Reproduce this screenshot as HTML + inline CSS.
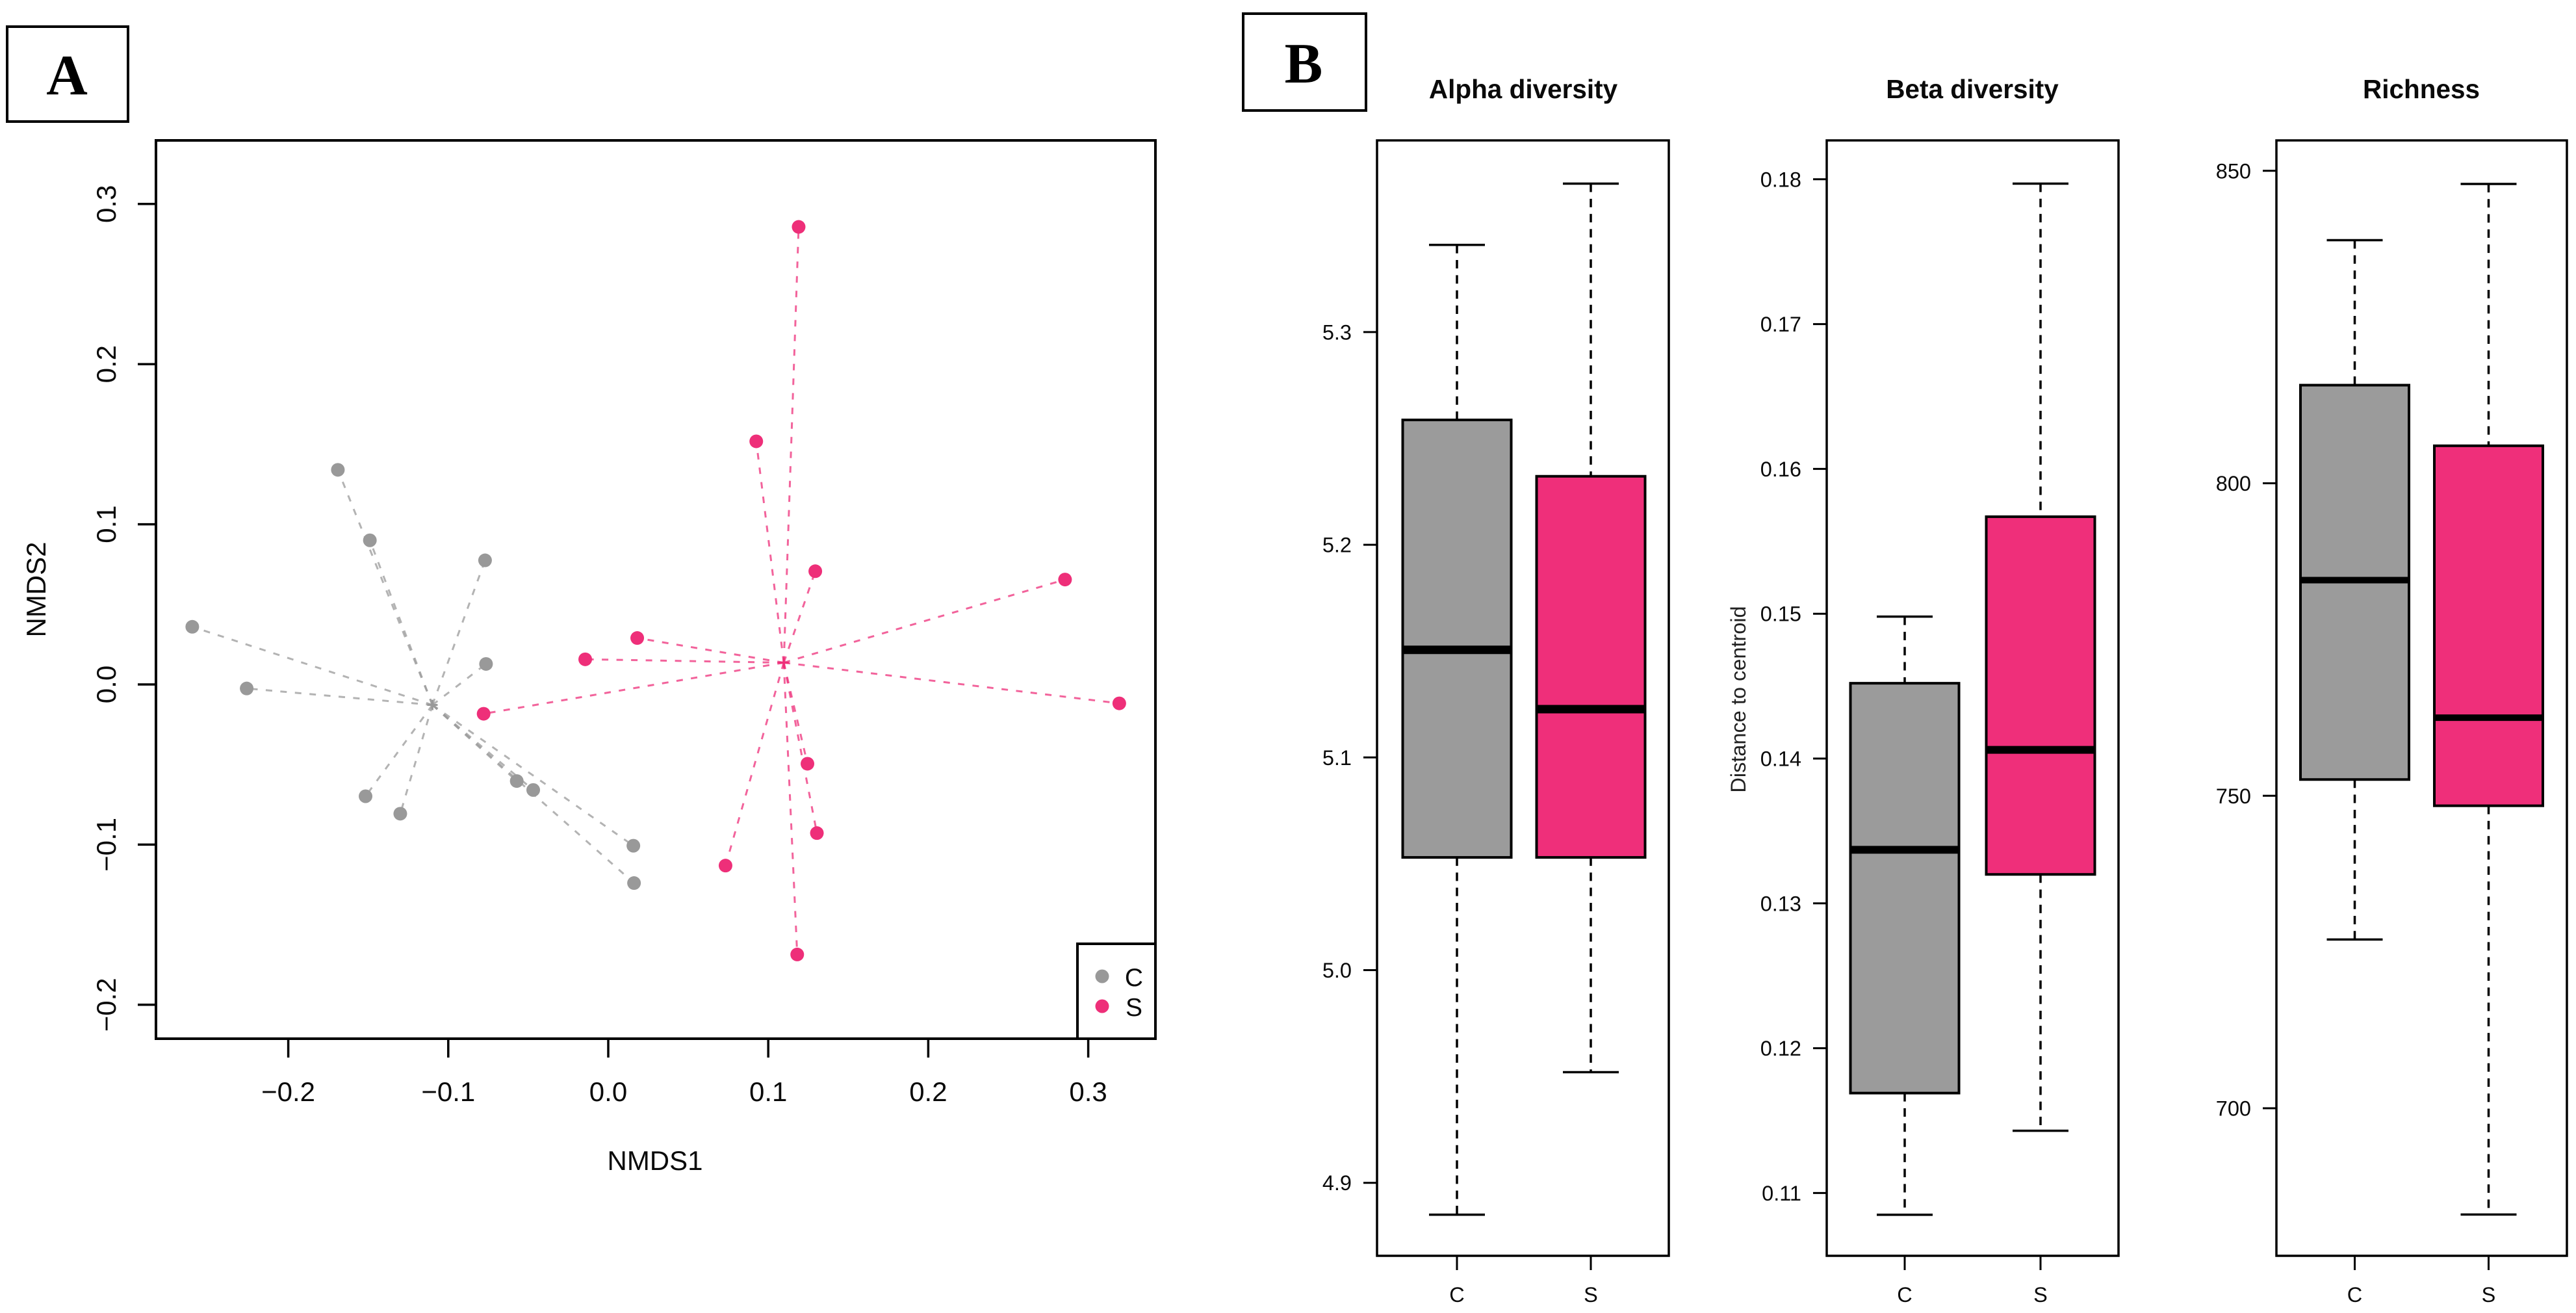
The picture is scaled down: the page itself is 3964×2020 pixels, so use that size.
<!DOCTYPE html>
<html lang="en">
<head>
<meta charset="utf-8">
<title>NMDS ordination and diversity boxplots</title>
<style>
html,body{margin:0;padding:0;background:#fff;}
svg{display:block;font-family:"Liberation Sans",Arial,sans-serif;}
text{fill:#0a0a0a;}
</style>
</head>
<body>
<svg id="chart" xmlns="http://www.w3.org/2000/svg" width="3964" height="2020" viewBox="0 0 3964 2020">
  <rect x="0" y="0" width="3964" height="2020" fill="#fff"/>

  <g>
    <rect x="11" y="41" width="186" height="146" fill="#fff" stroke="#000" stroke-width="4"/>
    <text x="103" y="145" text-anchor="middle" font-family="'Liberation Serif',serif" font-weight="700" font-size="88" style="fill:#000">A</text>
  </g>
  <g>
    <rect x="1913" y="21" width="189" height="149" fill="#fff" stroke="#000" stroke-width="4"/>
    <text x="2006" y="127" text-anchor="middle" font-family="'Liberation Serif',serif" font-weight="700" font-size="88" style="fill:#000">B</text>
  </g>

  <g id="panelA"></g>
  <rect x="240" y="216" width="1538" height="1382" fill="none" stroke="#000" stroke-width="4"/>
  <text x="1008" y="1800" text-anchor="middle" font-size="42">NMDS1</text>
  <text transform="translate(70,907) rotate(-90)" text-anchor="middle" font-size="42">NMDS2</text>

  <g>
    <rect x="1658" y="1452" width="120" height="146" fill="#fff" stroke="#000" stroke-width="4"/>
    <circle cx="1696" cy="1502" r="10.5" fill="#999999"/>
    <text x="1745" y="1517" text-anchor="middle" font-size="39">C</text>
    <circle cx="1696" cy="1548" r="10.5" fill="#EE2F79"/>
    <text x="1745" y="1563" text-anchor="middle" font-size="39">S</text>
  </g>

  <text x="2344" y="151" text-anchor="middle" font-size="40.5" font-weight="700">Alpha diversity</text>
  <text x="3035" y="151" text-anchor="middle" font-size="40.5" font-weight="700">Beta diversity</text>
  <text x="3726" y="151" text-anchor="middle" font-size="40.5" font-weight="700">Richness</text>
  <text transform="translate(2686,1076) rotate(-90)" text-anchor="middle" font-size="32.5" style="fill:#222">Distance to centroid</text>

  <g id="panelAlpha"></g>
  <g id="panelBeta"></g>
  <g id="panelRich"></g>
</svg>

<script>
// ---------- NMDS data ----------
const xTicksA = [-0.2, -0.1, 0.0, 0.1, 0.2, 0.3];
const yTicksA = [-0.2, -0.1, 0.0, 0.1, 0.2, 0.3];
const controlX = [-0.169, -0.149, -0.077, -0.260, -0.0764, -0.226, -0.1517, -0.130, -0.0572, -0.0469, 0.0157, 0.0161];
const controlY = [0.134, 0.090, 0.0775, 0.036, 0.0128, -0.0025, -0.0698, -0.0807, -0.0603, -0.0659, -0.1007, -0.124];
const controlCentroid = [-0.1099, -0.0128];
const treatedX = [0.119, 0.0925, 0.1294, 0.2855, 0.0181, -0.0144, -0.0779, 0.3194, 0.1245, 0.1304, 0.0733, 0.1181];
const treatedY = [0.2857, 0.1518, 0.0707, 0.0655, 0.029, 0.0157, -0.0183, -0.0118, -0.0495, -0.0928, -0.1131, -0.1686];
const treatedCentroid = [0.1097, 0.0136];

// ---------- Boxplot data: [lower whisker, Q1, median, Q3, upper whisker] ----------
const categories = ["C", "S"];
const alphaC = [4.885, 5.053, 5.1506, 5.2587, 5.341];
const alphaS = [4.952, 5.053, 5.1227, 5.2322, 5.3698];
const alphaTicks = ["4.9", "5.0", "5.1", "5.2", "5.3"];
const betaC = [0.1085, 0.1169, 0.1337, 0.1452, 0.1498];
const betaS = [0.1143, 0.1320, 0.1406, 0.1567, 0.1797];
const betaTicks = ["0.11", "0.12", "0.13", "0.14", "0.15", "0.16", "0.17", "0.18"];
const richC = [727, 752.6, 784.5, 815.7, 838.9];
const richS = [683, 748.4, 762.5, 806, 847.9];
const richTicks = ["700", "750", "800", "850"];

const GRAY = "#9B9B9B";
const PINK = "#EF2F7A";
const NS = "http://www.w3.org/2000/svg";

function mk(tag, parent, attrs) {
  const e = document.createElementNS(NS, tag);
  for (const k in attrs) e.setAttribute(k, attrs[k]);
  parent.appendChild(e);
  return e;
}

// ---------- NMDS axes ----------
const xA = v => 936 + 2462 * v;
const yA = v => 1053 - 2464 * v;
const fmtA = v => (v < 0 ? "\u2212" : "") + Math.abs(v).toFixed(1);
const gA = document.getElementById("panelA");

xTicksA.forEach(t => {
  const tick = mk("line", gA, {x1: xA(t), x2: xA(t), y1: 1598, y2: 1627, stroke: "#000", "stroke-width": 3.5});
  
  
  const lab = mk("text", gA, {x: xA(t), y: 1694, "text-anchor": "middle", "font-size": 42});
  
  
  lab.textContent = fmtA(t);
});
yTicksA.forEach(t => {
  const tick = mk("line", gA, {x1: 212, x2: 240, y1: yA(t), y2: yA(t), stroke: "#000", "stroke-width": 3.5});
  
  
  const lab = mk("text", gA, {transform: "translate(178," + yA(t) + ") rotate(-90)", "text-anchor": "middle", "font-size": 42});
  
  
  lab.textContent = fmtA(t);
});

function drawGroup(xs, ys, centroid, color, key) {
  const cx = xA(centroid[0]), cy = yA(centroid[1]);
  xs.forEach((x, i) => {
    const seg = mk("line", gA, {x1: cx, y1: cy, x2: xA(x), y2: yA(ys[i]), stroke: color, "stroke-width": 3, "stroke-opacity": 0.75, "stroke-dasharray": "10 12.5"});
    
    
  });
  const plus = mk("path", gA, {d: "M" + (cx - 8) + " " + cy + "H" + (cx + 8) + "M" + cx + " " + (cy - 8) + "V" + (cy + 8), stroke: color, "stroke-width": 3, fill: "none"});
  
  
  xs.forEach((x, i) => {
    const pt = mk("circle", gA, {cx: xA(x), cy: yA(ys[i]), r: 10.5, fill: color});
    
    
  });
}
drawGroup(controlX, controlY, controlCentroid, "#999999", "control");
drawGroup(treatedX, treatedY, treatedCentroid, "#EE2F79", "treated");

// ---------- Boxplots ----------
function drawBox(g, stats, cx, fill, y, medianWidth, key) {
  const halfBox = 83.5, halfCap = 43;
  const low = y(stats[0]), q1 = y(stats[1]), med = y(stats[2]), q3 = y(stats[3]), high = y(stats[4]);
  const upper = mk("line", g, {x1: cx, x2: cx, y1: high, y2: q3, stroke: "#000", "stroke-width": 3.5, "stroke-dasharray": "13 10.3"});
  
  
  const lower = mk("line", g, {x1: cx, x2: cx, y1: q1, y2: low, stroke: "#000", "stroke-width": 3.5, "stroke-dasharray": "13 10.3"});
  
  
  const capHigh = mk("line", g, {x1: cx - halfCap, x2: cx + halfCap, y1: high, y2: high, stroke: "#000", "stroke-width": 3.5});
  
  
  const capLow = mk("line", g, {x1: cx - halfCap, x2: cx + halfCap, y1: low, y2: low, stroke: "#000", "stroke-width": 3.5});
  
  
  const box = mk("rect", g, {x: cx - halfBox, y: q3, width: 2 * halfBox, height: q1 - q3, fill: fill, stroke: "#000", "stroke-width": 4});
  
  
  const m = mk("line", g, {x1: cx - halfBox, x2: cx + halfBox, y1: med, y2: med, stroke: "#000", "stroke-width": medianWidth});
  
  
}

function drawPanel(id, key, left, right, y, ticks, c0, step, seriesC, seriesS, medianWidth) {
  const g = document.getElementById(id);
  const band = i => c0 + i * step;
  ticks.forEach(t => {
    const py = y(parseFloat(t));
    const tick = mk("line", g, {x1: left - 21, x2: left, y1: py, y2: py, stroke: "#000", "stroke-width": 3});
    
    
    const lab = mk("text", g, {x: left - 39, y: py + 11.5, "text-anchor": "end", "font-size": 32.5});
    
    
    lab.textContent = t;
  });
  drawBox(g, seriesC, band(0), GRAY, y, medianWidth, key + '-c');
  drawBox(g, seriesS, band(1), PINK, y, medianWidth, key + '-s');
  const frame = mk("rect", g, {x: left, y: 216, width: right - left, height: 1716, fill: "none", stroke: "#000", "stroke-width": 3.5});
  
  
  categories.forEach((c, i) => {
    const tick = mk("line", g, {x1: band(i), x2: band(i), y1: 1932, y2: 1954, stroke: "#000", "stroke-width": 3});
    
    
    const lab = mk("text", g, {x: band(i), y: 2003, "text-anchor": "middle", "font-size": 32.5});
    
    
    lab.textContent = c;
  });
}

const yAlpha = v => 1492.5 - 3272 * (v - 5);
const yBeta = v => 1835.4 - 22280 * (v - 0.11);
const yRich = v => 1705 - 9.615 * (v - 700);

drawPanel("panelAlpha", "alpha", 2119, 2568, yAlpha, alphaTicks, 2242, 206, alphaC, alphaS, 13);
drawPanel("panelBeta", "beta", 2811, 3260, yBeta, betaTicks, 2931, 209, betaC, betaS, 12);
drawPanel("panelRich", "richness", 3503, 3950, yRich, richTicks, 3623.5, 206, richC, richS, 10);
</script>
</body>
</html>
